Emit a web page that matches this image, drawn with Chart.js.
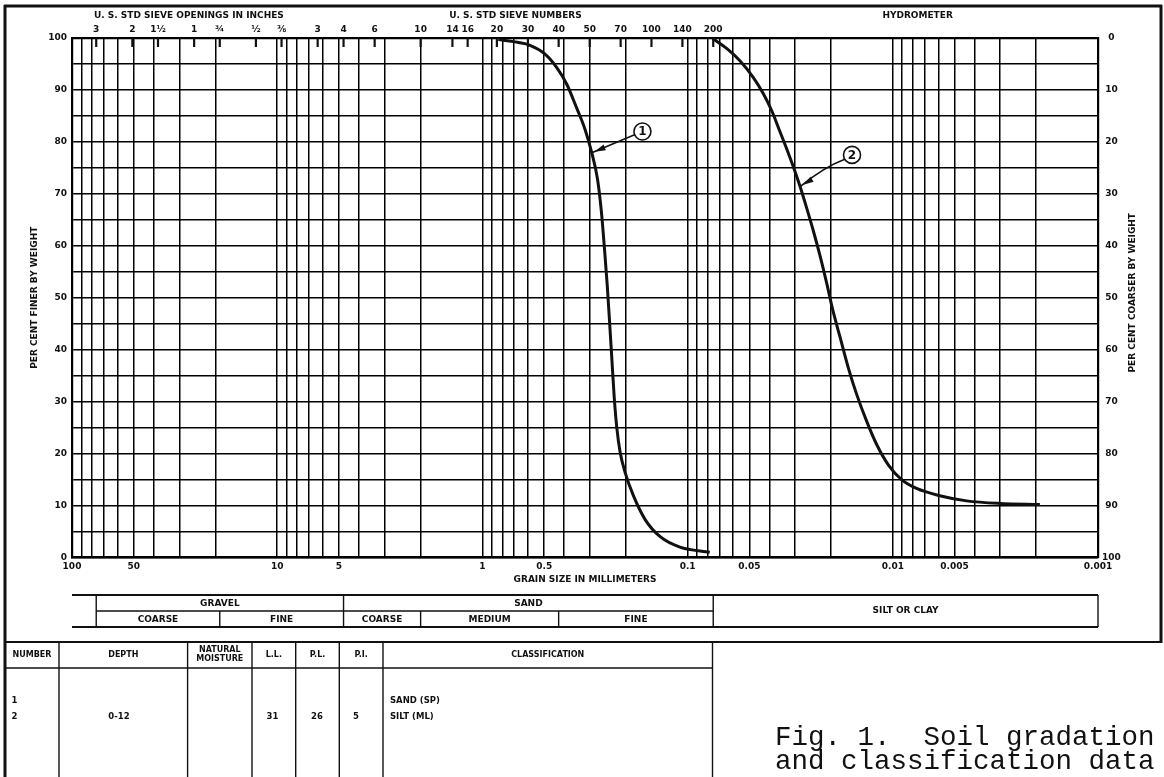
<!DOCTYPE html>
<html><head><meta charset="utf-8">
<script src="https://cdn.jsdelivr.net/npm/chart.js@4.4.1/dist/chart.umd.min.js"></script>
<style>html,body{margin:0;padding:0;background:#fff;}canvas{display:block;}</style>
</head><body>
<canvas id="c" width="1164" height="777"></canvas>
<script>
// ---------- data ----------
const sandSize  = [0.836,0.706,0.586,0.495,0.434,0.388,0.347,0.316,0.293,0.275,0.263,0.2542,0.2463,0.2398,0.2337,0.2278,0.2212,0.2133,0.2017,0.1837,0.161,0.136,0.109,0.078];
const sandFiner = [99.7,99.3,98.6,96.9,94.3,91.1,86.5,82.4,77.9,72.9,66.5,59.5,52.3,45.1,37.9,30.8,24.9,20.3,16.4,11.9,7.3,4.0,2.0,1.0];
const siltSize  = [0.0755,0.0645,0.0556,0.0479,0.0428,0.0389,0.0355,0.0327,0.0302,0.0283,0.0263,0.0244,0.0226,0.0210,0.0196,0.0181,0.0165,0.0150,0.0134,0.0120,0.0105,0.00906,0.00766,0.0059,0.00437,0.00301,0.00192];
const siltFiner = [99.9,98.0,95.6,92.4,89.3,86.0,82.0,78.4,74.7,71.4,67.3,62.9,58.0,52.8,47.6,42.5,36.6,31.4,26.2,21.8,17.8,15.0,13.3,11.9,10.9,10.4,10.2];

const sieveSizes  = [76.2,50.8,38.1,25.4,19.05,12.7,9.525,6.35,4.75,3.35,2.0,1.4,1.18,0.85,0.6,0.425,0.3,0.212,0.15,0.106,0.075];
const sieveLabels = ['3','2','1½','1','¾','½','⅜','3','4','6','10','14','16','20','30','40','50','70','100','140','200'];
const headerTexts = ['U. S. STD SIEVE OPENINGS IN INCHES','U. S. STD SIEVE NUMBERS','HYDROMETER'];

const gradeLabelValues = [100,50,10,5,1,0.5,0.1,0.05,0.01,0.005,0.001];
const gradeLabels      = ['100','50','10','5','1','0.5','0.1','0.05','0.01','0.005','0.001'];
const gridMantissas = [1,2,3,4,5,6,7,8,9];
const gridDecades   = [0.001,0.01,0.1,1,10];

const soilBounds = [76.2,19.05,4.75,2.0,0.425,0.075];
const soilMajor  = ['GRAVEL','SAND','SILT OR CLAY'];
const soilMinor  = ['COARSE','FINE','COARSE','MEDIUM','FINE'];

const calloutNumbers = ['1','2'];
const calloutSize    = [0.166,0.0158];
const calloutFiner   = [82.0,77.5];
const calloutTarget  = [8,9];

const tableHeaders = ['NUMBER','DEPTH','NATURAL\nMOISTURE','L.L.','P.L.','P.I.','CLASSIFICATION'];
const sampleNumber = ['1','2'];
const sampleDepth  = ['','0-12'];
const sampleMoist  = ['',''];
const sampleLL     = ['','31'];
const samplePL     = ['','26'];
const samplePI     = ['','5'];
const sampleClass  = ['SAND (SP)','SILT (ML)'];
const captionLines = ['Fig. 1.  Soil gradation','and classification data'];

// ---------- helpers ----------
const gridValues = [];
gridDecades.forEach(d => gridMantissas.forEach(m => gridValues.push(+(m*d).toPrecision(6))));
gridValues.push(100);
function gradeLabel(v){
  for (let i=0;i<gradeLabelValues.length;i++){
    if (Math.abs(v-gradeLabelValues[i]) < gradeLabelValues[i]*1e-6) return gradeLabels[i];
  }
  return '';
}
const INK = '#111';
const FONT = 'DejaVu Sans';
Chart.defaults.font.family = FONT;
Chart.defaults.font.weight = 'bold';
Chart.defaults.font.size = 9;
Chart.defaults.color = INK;

function seg(c,x1,y1,x2,y2){c.beginPath();c.moveTo(x1,y1);c.lineTo(x2,y2);c.stroke();}

const sheetPlugin = {
  id:'sheet',
  afterDatasetsDraw(chart){
    const c = chart.ctx, xs = chart.scales.x, ys = chart.scales.y, ca = chart.chartArea;
    c.save();
    // sieve tick marks inside top edge
    c.strokeStyle = INK; c.lineWidth = 2.2;
    sieveSizes.forEach(s => { const x = xs.getPixelForValue(s); seg(c,x,ca.top,x,ca.top+9); });
    // callouts
    calloutNumbers.forEach((n,i) => {
      const cx = xs.getPixelForValue(calloutSize[i]), cy = ys.getPixelForValue(calloutFiner[i]);
      const pt = chart.getDatasetMeta(i).data[calloutTarget[i]];
      const r = 8.5;
      const dx = pt.x - cx, dy = pt.y - cy, L = Math.hypot(dx,dy);
      const ux = dx/L, uy = dy/L;
      const sx = cx + ux*r, sy = cy + uy*r;
      c.strokeStyle = INK; c.lineWidth = 1.6;
      c.beginPath(); c.arc(cx,cy,r,0,Math.PI*2); c.stroke();
      c.beginPath();
      c.moveTo(sx,sy);
      if (i === 1) { c.quadraticCurveTo((sx+pt.x)/2+2,(sy+pt.y)/2-6,pt.x,pt.y); } else { c.lineTo(pt.x,pt.y); }
      c.stroke();
      // arrowhead
      const tipX = pt.x - ux*3, tipY = pt.y - uy*3;
      const bx = tipX - ux*11, by = tipY - uy*11;
      c.fillStyle = INK;
      c.beginPath(); c.moveTo(tipX,tipY); c.lineTo(bx - uy*3, by + ux*3); c.lineTo(bx + uy*3, by - ux*3); c.closePath(); c.fill();
      c.font = 'bold 12px ' + FONT; c.textAlign = 'center'; c.textBaseline = 'middle';
      c.fillText(n, cx, cy+0.5);
    });
    c.restore();
  },
  afterDraw(chart){
    const c = chart.ctx, xs = chart.scales.x, ca = chart.chartArea;
    const px = v => xs.getPixelForValue(v);
    c.save();
    c.strokeStyle = INK; c.fillStyle = INK;
    c.textAlign = 'center'; c.textBaseline = 'middle';
    c.font = 'bold 9px ' + FONT;
    // header texts
    c.fillText(headerTexts[0], (px(sieveSizes[0])+px(sieveSizes[6]))/2, 16);
    c.fillText(headerTexts[1], (px(sieveSizes[7])+px(sieveSizes[20]))/2, 16);
    c.fillText(headerTexts[2], (px(sieveSizes[20])+ca.right)/2 + 12, 16);
    // right axis title
    c.save(); c.translate(1133,(ca.top+ca.bottom)/2 - 5); c.rotate(-Math.PI/2);
    c.fillText('PER CENT COARSER BY WEIGHT',0,0); c.restore();
    // outer frame
    c.lineWidth = 3;
    seg(c,4,6,1162,6); seg(c,5,5,5,777); seg(c,1161,5,1161,643);
    c.lineWidth = 2; seg(c,5,642,1161,642);
    // soil classification bar
    const top=595, mid=611, bot=627;
    const b = soilBounds.map(px);
    c.lineWidth = 1.8;
    seg(c,ca.left,top,ca.right,top); seg(c,ca.left,bot,ca.right,bot);
    c.lineWidth = 1.4;
    seg(c,b[0],mid,b[5],mid);
    [b[0],b[2],b[5],ca.right].forEach(x => seg(c,x,top,x,bot));
    [b[1],b[3],b[4]].forEach(x => seg(c,x,mid,x,bot));
    c.fillText(soilMajor[0],(b[0]+b[2])/2,603.5);
    c.fillText(soilMajor[1],(b[2]+b[5])/2,603.5);
    c.fillText(soilMajor[2],(b[5]+ca.right)/2,611);
    c.fillText(soilMinor[0],(b[0]+b[1])/2,619.5);
    c.fillText(soilMinor[1],(b[1]+b[2])/2,619.5);
    c.fillText(soilMinor[2],(b[2]+b[3])/2,619.5);
    c.fillText(soilMinor[3],(b[3]+b[4])/2,619.5);
    c.fillText(soilMinor[4],(b[4]+b[5])/2,619.5);
    // data table
    const cols = [5,59,187.6,252,295.7,339.3,383,712.5];
    c.lineWidth = 1.4;
    seg(c,5,668,712.5,668);
    cols.slice(1).forEach(x => seg(c,x,642,x,777));
    c.font = 'bold 8px ' + FONT;
    tableHeaders.forEach((h,i) => {
      const cx = (cols[i]+cols[i+1])/2;
      const parts = h.split('\n');
      if (parts.length === 2) { c.fillText(parts[0],cx,650); c.fillText(parts[1],cx,659); }
      else c.fillText(h,cx,655);
    });
    c.font = 'bold 8.5px ' + FONT;
    const rowY = [701,717];
    sampleNumber.forEach((v,r) => {
      const y = rowY[r];
      c.textAlign = 'center';
      c.fillText(v,14.5,y);
      c.fillText(sampleDepth[r],119,y);
      c.fillText(sampleMoist[r],(cols[2]+cols[3])/2,y);
      c.fillText(sampleLL[r],272.5,y);
      c.fillText(samplePL[r],317,y);
      c.fillText(samplePI[r],356,y);
      c.textAlign = 'left';
      c.fillText(sampleClass[r],390,y);
    });
    // caption
    c.textAlign = 'left'; c.textBaseline = 'alphabetic';
    c.font = '27.5px "Liberation Mono"';
    c.fillStyle = '#111';
    c.fillText(captionLines[0],775,745);
    c.fillText(captionLines[1],775,769);
    c.restore();
  }
};

new Chart(document.getElementById('c'), {
  type:'scatter',
  data:{ datasets:[
    {label:'1', data: sandSize.map((s,i)=>({x:s,y:sandFiner[i]})), showLine:true, borderColor:INK, borderWidth:3, pointRadius:0, cubicInterpolationMode:'monotone', xAxisID:'x', yAxisID:'y'},
    {label:'2', data: siltSize.map((s,i)=>({x:s,y:siltFiner[i]})), showLine:true, borderColor:INK, borderWidth:3, pointRadius:0, cubicInterpolationMode:'monotone', xAxisID:'x', yAxisID:'y'}
  ]},
  options:{
    responsive:false, animation:false, devicePixelRatio:1,
    layout:{padding:{left:0,right:0,top:0,bottom:189.5}},
    plugins:{legend:{display:false}, tooltip:{enabled:false}},
    scales:{
      x:{type:'logarithmic', position:'bottom', reverse:true, min:0.001, max:100,
        afterBuildTicks: s => { s.ticks = gridValues.map(v=>({value:v})); },
        afterFit: s => { s.height = 30; },
        grid:{color:'#000', lineWidth:1.5, drawTicks:false},
        border:{display:true, color:'#000', width:2.2},
        ticks:{autoSkip:false, maxRotation:0, minRotation:0, padding:4, callback: v => gradeLabel(v)},
        title:{display:true, text:'GRAIN SIZE IN MILLIMETERS', padding:{top:0,bottom:2.6}, font:{size:9,weight:'bold'}}
      },
      xTop:{type:'logarithmic', position:'top', reverse:true, min:0.001, max:100,
        afterBuildTicks: s => { s.ticks = sieveSizes.map(v=>({value:v})); },
        afterFit: s => { s.height = 38; },
        grid:{drawOnChartArea:false, drawTicks:false, color:'#000'},
        border:{display:true, color:'#000', width:2.2},
        ticks:{autoSkip:false, maxRotation:0, minRotation:0, padding:3, callback:(v,i)=>sieveLabels[i]}
      },
      y:{type:'linear', position:'left', min:0, max:100,
        afterFit: s => { s.width = 72; },
        grid:{color:'#000', lineWidth:1.5, drawTicks:false},
        border:{display:true, color:'#000', width:2.2},
        ticks:{stepSize:5, padding:5, callback: v => (v%10===0 ? String(v) : '')},
        title:{display:true, text:'PER CENT FINER BY WEIGHT', padding:{top:29,bottom:0}, font:{size:9,weight:'bold'}}
      },
      y2:{type:'linear', position:'right', min:0, max:100, reverse:true,
        afterFit: s => { s.width = 66; },
        grid:{drawOnChartArea:false, drawTicks:false, color:'#000'},
        border:{display:true, color:'#000', width:2.2},
        ticks:{stepSize:10, padding:4, crossAlign:'center'}
      }
    }
  },
  plugins:[sheetPlugin]
});
</script>
</body></html>
